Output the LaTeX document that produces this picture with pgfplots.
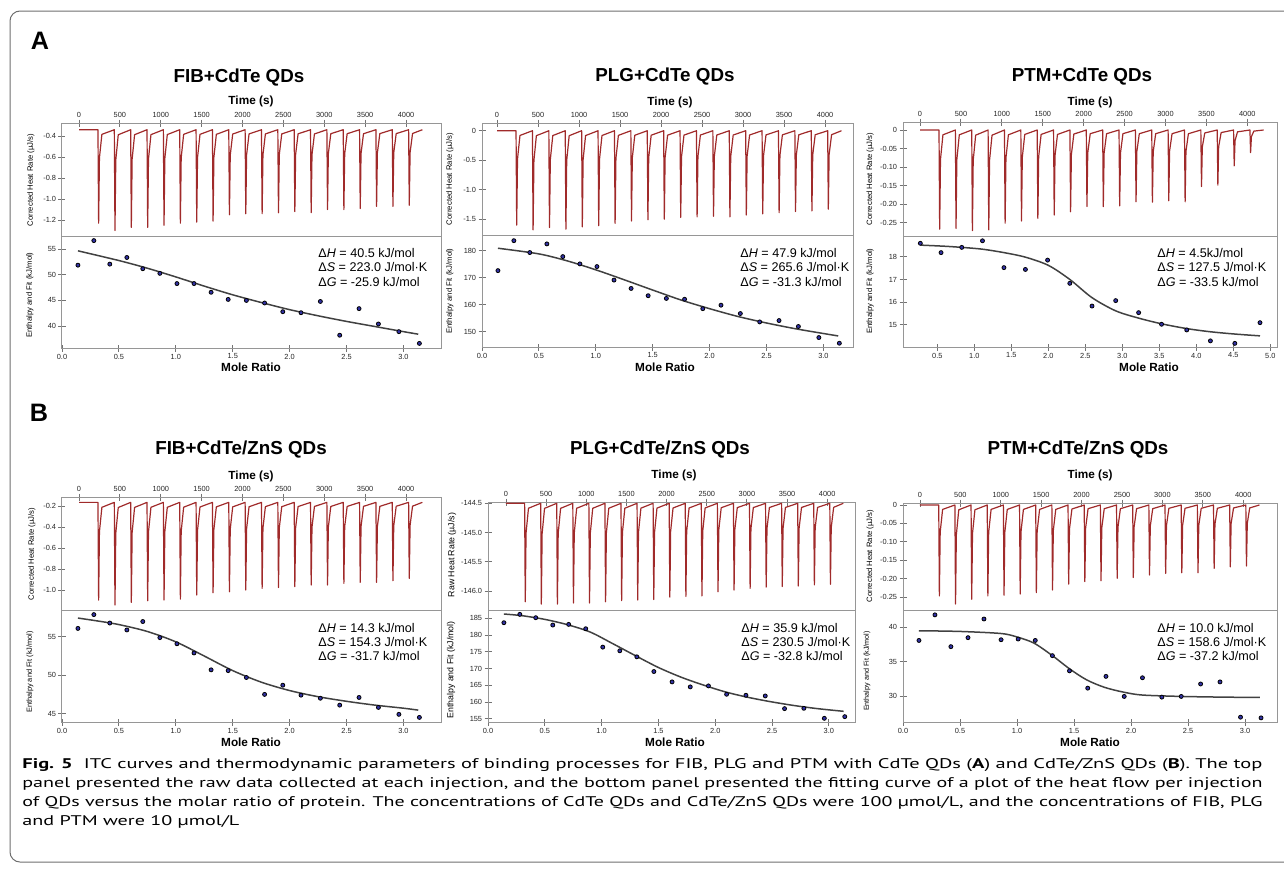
\documentclass[border=0pt]{standalone}
\usepackage{fontspec}
\setmainfont{Liberation Sans}
\newfontfamily\capfont{PT Sans}
\usepackage{graphicx}
\usepackage{pgfplots}
\usepackage{pgfplotstable}
\pgfplotsset{compat=1.18}

\definecolor{rawred}{RGB}{160,42,42}
\definecolor{dotblue}{RGB}{50,50,165}
\definecolor{fitgray}{RGB}{65,65,65}
\definecolor{boxgray}{RGB}{150,150,150}
\definecolor{framegray}{RGB}{110,110,110}

% raw thermograms: t, FIB/CdTe, PLG/CdTe, PTM/CdTe, FIB/ZnS, PLG/ZnS, PTM/ZnS
\pgfplotstableread{
t fa pa ta fb pb tb
0 -0.34 0 0 -0.165 -144.5 0
232 -0.34 0 0 -0.165 -144.5 0
240 -1.23 -1.60 -0.268 -1.095 -146.18 -0.247
250 -0.607 -0.480 -0.080 -0.444 -145.004 -0.074
280 -0.384 -0.080 -0.013 -0.212 -144.584 -0.012
432 -0.34 0 0 -0.165 -144.5 0
440 -1.30 -1.68 -0.266 -1.143 -146.22 -0.269
450 -0.628 -0.504 -0.080 -0.458 -145.016 -0.081
480 -0.388 -0.084 -0.013 -0.214 -144.586 -0.013
632 -0.34 0 0 -0.165 -144.5 0
640 -1.27 -1.64 -0.272 -1.117 -146.22 -0.256
650 -0.619 -0.492 -0.082 -0.451 -145.016 -0.077
680 -0.387 -0.082 -0.014 -0.213 -144.586 -0.013
832 -0.34 0 0 -0.165 -144.5 0
840 -1.27 -1.67 -0.270 -1.102 -146.20 -0.247
850 -0.619 -0.501 -0.081 -0.446 -145.010 -0.074
880 -0.387 -0.084 -0.014 -0.212 -144.585 -0.012
1032 -0.34 0 0 -0.165 -144.5 0
1040 -1.25 -1.63 -0.252 -1.095 -146.20 -0.245
1050 -0.613 -0.489 -0.076 -0.444 -145.010 -0.074
1080 -0.386 -0.082 -0.013 -0.212 -144.585 -0.012
1232 -0.34 0 0 -0.165 -144.5 0
1240 -1.23 -1.61 -0.246 -1.086 -146.18 -0.242
1250 -0.607 -0.483 -0.074 -0.441 -145.004 -0.073
1280 -0.384 -0.081 -0.012 -0.211 -144.584 -0.012
1432 -0.34 0 0 -0.165 -144.5 0
1440 -1.22 -1.57 -0.239 -1.048 -146.16 -0.238
1450 -0.604 -0.471 -0.072 -0.430 -144.998 -0.071
1480 -0.384 -0.079 -0.012 -0.209 -144.583 -0.012
1632 -0.34 0 0 -0.165 -144.5 0
1640 -1.21 -1.53 -0.230 -1.026 -146.15 -0.231
1650 -0.601 -0.459 -0.069 -0.423 -144.995 -0.069
1680 -0.384 -0.077 -0.012 -0.208 -144.583 -0.012
1832 -0.34 0 0 -0.165 -144.5 0
1840 -1.15 -1.51 -0.221 -1.016 -146.14 -0.215
1850 -0.583 -0.453 -0.066 -0.420 -144.992 -0.065
1880 -0.381 -0.076 -0.011 -0.208 -144.582 -0.011
2032 -0.34 0 0 -0.165 -144.5 0
2040 -1.14 -1.50 -0.207 -1.000 -146.10 -0.208
2050 -0.580 -0.450 -0.062 -0.416 -144.980 -0.062
2080 -0.380 -0.075 -0.010 -0.207 -144.580 -0.010
2232 -0.34 0 0 -0.165 -144.5 0
2240 -1.14 -1.47 -0.207 -0.984 -146.09 -0.206
2250 -0.580 -0.441 -0.062 -0.411 -144.977 -0.062
2280 -0.380 -0.074 -0.010 -0.206 -144.580 -0.010
2432 -0.34 0 0 -0.165 -144.5 0
2440 -1.13 -1.46 -0.205 -0.975 -146.08 -0.199
2450 -0.577 -0.438 -0.062 -0.408 -144.974 -0.060
2480 -0.380 -0.073 -0.010 -0.206 -144.579 -0.010
2632 -0.34 0 0 -0.165 -144.5 0
2640 -1.12 -1.45 -0.194 -0.968 -146.01 -0.197
2650 -0.574 -0.435 -0.058 -0.406 -144.953 -0.059
2680 -0.379 -0.073 -0.010 -0.205 -144.576 -0.010
2832 -0.34 0 0 -0.165 -144.5 0
2840 -1.13 -1.46 -0.195 -0.952 -145.98 -0.190
2850 -0.577 -0.438 -0.059 -0.401 -144.944 -0.057
2880 -0.380 -0.073 -0.010 -0.204 -144.574 -0.010
3032 -0.34 0 0 -0.165 -144.5 0
3040 -1.10 -1.43 -0.191 -0.952 -145.95 -0.186
3050 -0.568 -0.429 -0.057 -0.401 -144.935 -0.056
3080 -0.378 -0.072 -0.010 -0.204 -144.573 -0.009
3232 -0.34 0 0 -0.165 -144.5 0
3240 -1.10 -1.41 -0.194 -0.936 -145.93 -0.184
3250 -0.568 -0.423 -0.058 -0.396 -144.929 -0.055
3280 -0.378 -0.071 -0.010 -0.204 -144.572 -0.009
3432 -0.34 0 0 -0.165 -144.5 0
3440 -1.09 -1.39 -0.153 -0.927 -145.92 -0.184
3450 -0.565 -0.417 -0.046 -0.394 -144.926 -0.055
3480 -0.378 -0.070 -0.008 -0.203 -144.571 -0.009
3632 -0.34 0 0 -0.165 -144.5 0
3640 -1.07 -1.37 -0.149 -0.927 -145.91 -0.172
3650 -0.559 -0.411 -0.045 -0.394 -144.923 -0.052
3680 -0.377 -0.069 -0.007 -0.203 -144.571 -0.009
3832 -0.34 0 0 -0.165 -144.5 0
3840 -1.07 -1.36 -0.097 -0.911 -145.89 -0.168
3850 -0.559 -0.408 -0.029 -0.389 -144.917 -0.050
3880 -0.377 -0.068 -0.005 -0.202 -144.570 -0.008
4032 -0.34 0 0 -0.165 -144.5 0
4040 -1.06 -1.33 -0.061 -0.889 -145.88 -0.166
4050 -0.556 -0.399 -0.018 -0.382 -144.914 -0.050
4080 -0.376 -0.067 -0.003 -0.201 -144.569 -0.008
4200 -0.34 0 0 -0.165 -144.5 0
}\rawdata

% integrated heats (kJ/mol) vs mole ratio
\pgfplotstableread{
x fa pa fb pb tb
0.14 51.9 172.6 56.1 183.7 38.1
0.28 56.7 183.7 57.9 186.2 41.8
0.42 52.1 179.3 56.8 185.2 37.2
0.57 53.4 182.5 55.9 183.0 38.5
0.71 51.2 177.8 57.0 183.2 41.2
0.86 50.3 175.1 54.9 181.9 38.2
1.01 48.3 174.1 54.1 176.4 38.3
1.16 48.3 169.1 52.9 175.3 38.1
1.31 46.6 166.0 50.7 173.5 35.9
1.46 45.2 163.3 50.6 169.1 33.7
1.62 45.0 162.3 49.7 166.0 31.2
1.78 44.5 162.0 47.5 164.5 32.9
1.94 42.8 158.5 48.7 164.8 30.0
2.10 42.6 159.8 47.4 162.3 32.7
2.27 44.8 156.7 47.0 162.0 29.9
2.44 38.2 153.6 46.1 161.8 30.0
2.61 43.4 154.1 47.1 158.0 31.8
2.78 40.4 151.9 45.8 158.1 32.1
2.96 38.9 147.8 44.9 155.1 27.0
3.14 36.6 145.7 44.5 155.6 26.9
}\ptsdata

\pgfplotstableread{
x y
0.27 18.59
0.55 18.18
0.83 18.41
1.11 18.70
1.40 17.52
1.69 17.44
1.99 17.85
2.29 16.83
2.59 15.83
2.91 16.07
3.22 15.54
3.53 15.03
3.87 14.78
4.19 14.30
4.52 14.19
4.86 15.10
}\ptmApts

\pgfplotsset{
  itc/.style={
    scale only axis, anchor=south west,
    axis line style={boxgray, line width=0.5pt},
    tick style={black!55, line width=0.45pt},
    major tick length=3.5pt, tick align=center,
    tick label style={font=\fontsize{3.7}{4}\selectfont, text=black!85, inner sep=1pt},
    /pgf/number format/assume math mode=true,
  },
  itctop/.style={itc, xtick pos=right, xticklabel pos=right, ytick pos=left,
    xtick={0,500,1000,1500,2000,2500,3000,3500,4000},
    xticklabels={0,500,1000,1500,2000,2500,3000,3500,4000}},
  itcbot/.style={itc, xtick pos=left, ytick pos=left},
  rawline/.style={rawred, line width=0.6pt, no markers, line join=round},
  fitline/.style={fitgray, line width=0.75pt, no markers, smooth},
  dots/.style={only marks, mark=*, mark size=1.0pt, mark options={draw=none, fill=dotblue}},
}

\begin{document}
\begin{tikzpicture}
\useasboundingbox (0pt,0pt) rectangle (642pt,-434pt);

% ===================== A: FIB + CdTe =====================
\begin{axis}[itctop, at={(31pt,-118pt)}, width=189.5pt, height=56.5pt,
  xmin=-208, xmax=4428, ymin=-1.352, ymax=-0.276,
  ytick={-1.2,-1.0,-0.8,-0.6,-0.4}, yticklabels={-1.2,-1.0,-0.8,-0.6,-0.4}]
\addplot[rawline] table[x=t,y=fa]{\rawdata};
\end{axis}
\begin{axis}[itcbot, at={(31pt,-174pt)}, width=189.5pt, height=56pt,
  xmin=0, xmax=3.33, ymin=35.7, ymax=57.6,
  xtick={0,0.5,1,1.5,2,2.5,3}, xticklabels={0.0,0.5,1.0,1.5,2.0,2.5,3.0},
  ytick={40,45,50,55}, yticklabels={40,45,50,55}]
\addplot[fitline] coordinates {(0.14,54.7) (0.5,52.8) (0.75,51.3) (1.0,49.6) (1.25,47.8) (1.5,46.1) (1.75,44.6) (2.0,43.2) (2.25,42.0) (2.5,40.9) (2.75,39.9) (3.0,38.9) (3.13,38.4)};
\addplot[dots] table[x=x,y=fa]{\ptsdata};
\end{axis}

% ===================== A: PLG + CdTe =====================
\begin{axis}[itctop, at={(241pt,-117.5pt)}, width=185.5pt, height=56pt,
  xmin=-183, xmax=4341, ymin=-1.768, ymax=0.131,
  ytick={-1.5,-1.0,-0.5,0}, yticklabels={-1.5,-1.0,-0.5,0}]
\addplot[rawline] table[x=t,y=pa]{\rawdata};
\end{axis}
\begin{axis}[itcbot, at={(241pt,-173.5pt)}, width=185.5pt, height=56pt,
  xmin=0, xmax=3.26, ymin=144.3, ymax=185.8,
  xtick={0,0.5,1,1.5,2,2.5,3}, xticklabels={0.0,0.5,1.0,1.5,2.0,2.5,3.0},
  ytick={150,160,170,180}, yticklabels={150,160,170,180}]
\addplot[fitline] coordinates {(0.14,180.9) (0.5,178.8) (0.75,176.2) (1.0,172.9) (1.25,169.2) (1.5,165.4) (1.75,161.7) (2.0,158.5) (2.25,155.6) (2.5,153.2) (2.75,151.1) (3.0,149.3) (3.13,148.4)};
\addplot[dots] table[x=x,y=pa]{\ptsdata};
\end{axis}

% ===================== A: PTM + CdTe =====================
\begin{axis}[itctop, at={(451.5pt,-118pt)}, width=187pt, height=57pt,
  xmin=-208, xmax=4363, ymin=-0.2865, ymax=0.0216,
  ytick={-0.25,-0.2,-0.15,-0.1,-0.05,0}, yticklabels={-0.25,-0.20,-0.15,-0.10,-0.05,0}]
\addplot[rawline] table[x=t,y=ta]{\rawdata};
\end{axis}
\begin{axis}[itcbot, at={(451.5pt,-173.5pt)}, width=187pt, height=55.5pt,
  xmin=0.036, xmax=5.09, ymin=14.03, ymax=18.91,
  xtick={0.5,1,1.5,2,2.5,3,3.5,4,4.5,5}, xticklabels={0.5,1.0,1.5,2.0,2.5,3.0,3.5,4.0,4.5,5.0},
  ytick={15,16,17,18}, yticklabels={15,16,17,18}]
\addplot[fitline] coordinates {(0.27,18.51) (0.6,18.46) (0.83,18.41) (1.11,18.33) (1.40,18.18) (1.69,17.98) (2.0,17.62) (2.29,17.0) (2.59,16.2) (2.91,15.62) (3.22,15.3) (3.53,15.05) (3.87,14.84) (4.19,14.7) (4.52,14.6) (4.86,14.52)};
\addplot[dots] table[x=x,y=y]{\ptmApts};
\end{axis}

% ===================== B: FIB + CdTe/ZnS =====================
\begin{axis}[itctop, at={(31pt,-305pt)}, width=189.5pt, height=56.5pt,
  xmin=-208, xmax=4428, ymin=-1.19, ymax=-0.114,
  ytick={-1.0,-0.8,-0.6,-0.4,-0.2}, yticklabels={-1.0,-0.8,-0.6,-0.4,-0.2}]
\addplot[rawline] table[x=t,y=fb]{\rawdata};
\end{axis}
\begin{axis}[itcbot, at={(31pt,-361pt)}, width=189.5pt, height=56pt,
  xmin=0, xmax=3.33, ymin=43.9, ymax=58.5,
  xtick={0,0.5,1,1.5,2,2.5,3}, xticklabels={0.0,0.5,1.0,1.5,2.0,2.5,3.0},
  ytick={45,50,55}, yticklabels={45,50,55}]
\addplot[fitline] coordinates {(0.14,57.45) (0.3,57.1) (0.5,56.6) (0.75,55.7) (1.0,54.35) (1.25,52.5) (1.5,50.6) (1.75,49.1) (2.0,48.0) (2.25,47.2) (2.5,46.6) (2.75,46.1) (3.0,45.7) (3.13,45.45)};
\addplot[dots] table[x=x,y=fb]{\ptsdata};
\end{axis}

% ===================== B: PLG + CdTe/ZnS =====================
\begin{axis}[itctop, at={(244pt,-305pt)}, width=183.5pt, height=54pt,
  xmin=-224, xmax=4346, ymin=-146.32, ymax=-144.478,
  ytick={-146,-145.5,-145,-144.5}, yticklabels={-146.0,-145.5,-145.0,-144.5}]
\addplot[rawline] table[x=t,y=pb]{\rawdata};
\end{axis}
\begin{axis}[itcbot, at={(244pt,-361pt)}, width=183.5pt, height=56pt,
  xmin=0, xmax=3.23, ymin=154.0, ymax=187.5,
  xtick={0,0.5,1,1.5,2,2.5,3}, xticklabels={0.0,0.5,1.0,1.5,2.0,2.5,3.0},
  ytick={155,160,165,170,175,180,185}, yticklabels={155,160,165,170,175,180,185}]
\addplot[fitline] coordinates {(0.14,186.3) (0.3,185.8) (0.5,184.7) (0.7,183.1) (0.9,180.9) (1.1,177.4) (1.3,173.8) (1.5,170.3) (1.7,167.4) (1.9,165.0) (2.1,162.9) (2.3,161.3) (2.5,160.0) (2.7,158.9) (2.9,158.0) (3.13,157.2)};
\addplot[dots] table[x=x,y=pb]{\ptsdata};
\end{axis}

% ===================== B: PTM + CdTe/ZnS =====================
\begin{axis}[itctop, at={(451.5pt,-305pt)}, width=187pt, height=53.5pt,
  xmin=-210, xmax=4418, ymin=-0.2853, ymax=0.0054,
  ytick={-0.25,-0.2,-0.15,-0.1,-0.05,0}, yticklabels={-0.25,-0.20,-0.15,-0.10,-0.05,0}]
\addplot[rawline] table[x=t,y=tb]{\rawdata};
\end{axis}
\begin{axis}[itcbot, at={(451.5pt,-361pt)}, width=187pt, height=56pt,
  xmin=0, xmax=3.28, ymin=26.3, ymax=42.5,
  xtick={0,0.5,1,1.5,2,2.5,3}, xticklabels={0.0,0.5,1.0,1.5,2.0,2.5,3.0},
  ytick={30,35,40}, yticklabels={30,35,40}]
\addplot[fitline] coordinates {(0.14,39.5) (0.5,39.4) (0.86,39.1) (1.0,38.6) (1.15,37.7) (1.31,35.9) (1.46,34.0) (1.61,32.4) (1.77,31.3) (1.94,30.6) (2.1,30.2) (2.44,30.0) (2.8,29.9) (3.13,29.85)};
\addplot[dots] table[x=x,y=tb]{\ptsdata};
\end{axis}

% ===================== texts (pixel coordinates) =====================
\begin{scope}[x=0.5pt,y=-0.5pt]
\draw[framegray, line width=0.5pt, rounded corners=5pt] (1300,11) -- (10,11) -- (10,862) -- (1300,862);

\tikzset{mytl/.style={font=\bfseries\fontsize{9.4}{10}\selectfont},
  myax/.style={font=\bfseries\fontsize{5.9}{6}\selectfont},
  myyl/.style={rotate=90, font=\fontsize{3.85}{4}\selectfont},
  myann/.style={anchor=west, inner sep=0pt, font=\fontsize{6.3}{7}\selectfont},
  mybig/.style={font=\bfseries\fontsize{12.6}{13}\selectfont},
  mycap/.style={anchor=base west, inner sep=0pt, font=\capfont\fontsize{7}{8}\selectfont}}

\node[mybig] at (40,41) {A};
\node[mybig] at (39,413) {B};

\node[mytl] at (239,78) {FIB+CdTe QDs};
\node[mytl] at (665,77) {PLG+CdTe QDs};
\node[mytl] at (1082,77) {PTM+CdTe QDs};
\node[mytl] at (241,450) {FIB+CdTe/ZnS QDs};
\node[mytl] at (660,450) {PLG+CdTe/ZnS QDs};
\node[mytl] at (1078,450) {PTM+CdTe/ZnS QDs};

\node[myax] at (251,101) {Time (s)};
\node[myax] at (670,102) {Time (s)};
\node[myax] at (1090,102) {Time (s)};
\node[myax] at (251,476) {Time (s)};
\node[myax] at (674,475) {Time (s)};
\node[myax] at (1090,475) {Time (s)};

\node[myax] at (251,367) {Mole Ratio};
\node[myax] at (665,367) {Mole Ratio};
\node[myax] at (1149,367) {Mole Ratio};
\node[myax] at (251,742) {Mole Ratio};
\node[myax] at (675,742) {Mole Ratio};
\node[myax] at (1090,742) {Mole Ratio};

\node[myyl] at (31,180) {Corrected Heat Rate (µJ/s)};
\node[myyl] at (30,295) {Enthalpy and Fit (kJ/mol)};
\node[myyl] at (450,179) {Corrected Heat Rate (µJ/s)};
\node[myyl] at (450,291) {Enthalpy and Fit (kJ/mol)};
\node[myyl] at (870,179) {Corrected Heat Rate (µJ/s)};
\node[myyl] at (870,291) {Enthalpy and Fit (kJ/mol)};
\node[myyl] at (32,554) {Corrected Heat Rate (µJ/s)};
\node[myyl, font=\fontsize{3.7}{4}\selectfont] at (30,672) {Enthalpy and Fit (kJ/mol)};
\node[myyl, font=\fontsize{4.4}{5}\selectfont] at (452,555) {Raw Heat Rate (µJ/s)};
\node[myyl, font=\fontsize{4.4}{5}\selectfont] at (451,670) {Enthalpy and Fit (kJ/mol)};
\node[myyl] at (870,556) {Corrected Heat Rate (µJ/s)};
\node[myyl, font=\fontsize{3.6}{4}\selectfont] at (867,671) {Enthalpy and Fit (kJ/mol)};

\node[myann] at (318,253) {Δ\textit{H} = 40.5 kJ/mol};
\node[myann] at (318,267.3) {Δ\textit{S} = 223.0 J/mol·K};
\node[myann] at (318,281.6) {Δ\textit{G} = -25.9 kJ/mol};
\node[myann] at (740,253) {Δ\textit{H} = 47.9 kJ/mol};
\node[myann] at (740,267.3) {Δ\textit{S} = 265.6 J/mol·K};
\node[myann] at (740,281.6) {Δ\textit{G} = -31.3 kJ/mol};
\node[myann] at (1157,253) {Δ\textit{H} = 4.5kJ/mol};
\node[myann] at (1157,267.3) {Δ\textit{S} = 127.5 J/mol·K};
\node[myann] at (1157,281.6) {Δ\textit{G} = -33.5 kJ/mol};
\node[myann] at (318,628) {Δ\textit{H} = 14.3 kJ/mol};
\node[myann] at (318,642) {Δ\textit{S} = 154.3 J/mol·K};
\node[myann] at (318,656) {Δ\textit{G} = -31.7 kJ/mol};
\node[myann] at (741,628) {Δ\textit{H} = 35.9 kJ/mol};
\node[myann] at (741,642) {Δ\textit{S} = 230.5 J/mol·K};
\node[myann] at (741,656) {Δ\textit{G} = -32.8 kJ/mol};
\node[myann] at (1157,628) {Δ\textit{H} = 10.0 kJ/mol};
\node[myann] at (1157,642) {Δ\textit{S} = 158.6 J/mol·K};
\node[myann] at (1157,656) {Δ\textit{G} = -37.2 kJ/mol};

\node[mycap] at (22,768) {\resizebox{620pt}{\height}{\textbf{Fig. 5}\hspace{0.55em}ITC curves and thermodynamic parameters of binding processes for FIB, PLG and PTM with CdTe QDs (\textbf{A}) and CdTe/ZnS QDs (\textbf{B}). The top}};
\node[mycap] at (22,787) {\resizebox{620pt}{\height}{panel presented the raw data collected at each injection, and the bottom panel presented the fitting curve of a plot of the heat flow per injection}};
\node[mycap] at (22,806) {\resizebox{620pt}{\height}{of QDs versus the molar ratio of protein. The concentrations of CdTe QDs and CdTe/ZnS QDs were 100 µmol/L, and the concentrations of FIB, PLG}};
\node[mycap] at (22,825) {\resizebox{108.5pt}{\height}{and PTM were 10 µmol/L}};
\end{scope}
\end{tikzpicture}
\end{document}
